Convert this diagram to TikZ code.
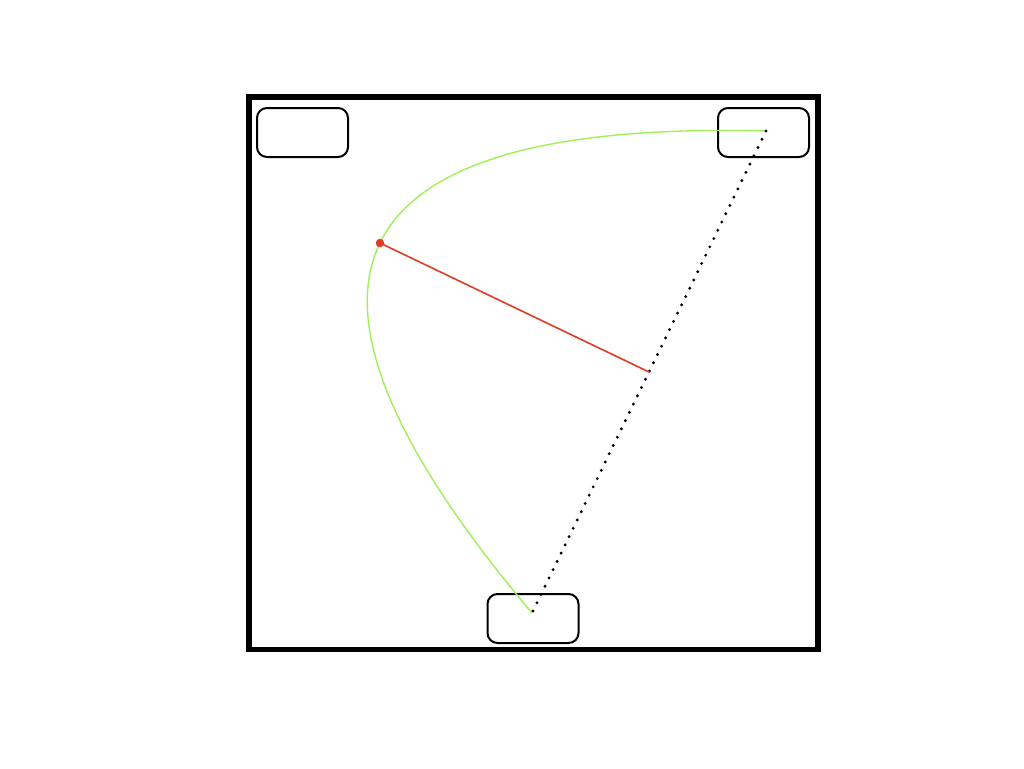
\documentclass[tikz,border=0pt]{standalone}
\begin{document}
\begin{tikzpicture}[x=1pt,y=-1pt,
  frame/.style={draw=black,line width=5.5pt},
  roundbox/.style={draw=black,line width=2pt,rounded corners=10pt,minimum width=91pt,minimum height=49pt,inner sep=0pt},
  greencurve/.style={draw={rgb,255:red,160;green,240;blue,90},line width=1.4pt},
  redline/.style={draw={rgb,255:red,222;green,60;blue,38},line width=1.6pt},
  reddot/.style={circle,fill={rgb,255:red,222;green,60;blue,38},inner sep=0pt,minimum size=8.5pt},
  chord/.style={draw=black,line width=3.2pt,line cap=round,dash pattern=on 0pt off 9.2pt}]
\useasboundingbox (0,0) rectangle (1024,768);
\fill[white] (0,0) rectangle (1024,768);
\draw[frame] (249,97) rectangle (818,649.5);
\node[roundbox] (tl) at (302.5,132.5) {};
\node[roundbox] (tr) at (763.5,132.5) {};
\node[roundbox] (bot) at (533,618.5) {};
\coordinate (A) at (766,131);
\coordinate (B) at (532,613);
\coordinate (M) at (649,372);
\coordinate (P) at (380,243);
\draw[greencurve] (A) .. controls (329.3,119.7) and (251.3,280.3) .. (B);
\draw[chord] (A) -- (B);
\draw[redline] (P) -- (M);
\node[reddot] (D) at (P) {};
\end{tikzpicture}
\end{document}
